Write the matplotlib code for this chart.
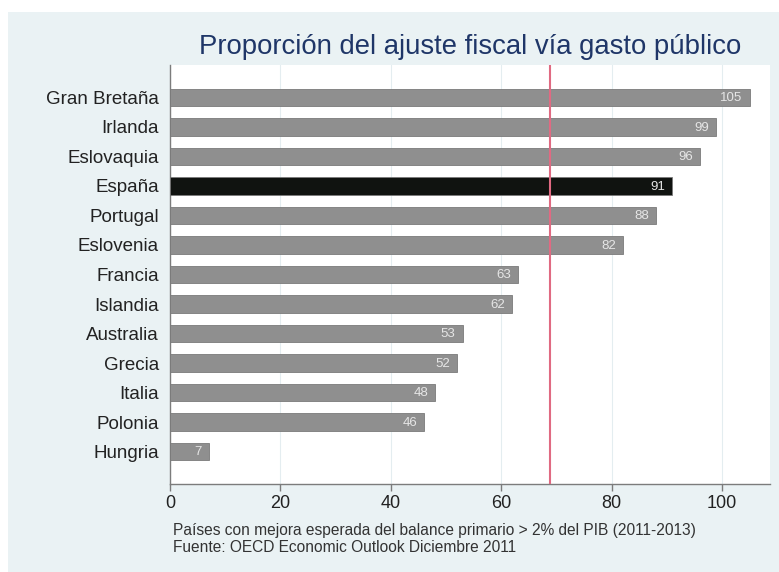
import matplotlib.pyplot as plt
from matplotlib.patches import Rectangle

plt.rcParams['font.family'] = ['Liberation Sans', 'DejaVu Sans']

countries = ['Gran Bretaña', 'Irlanda', 'Eslovaquia', 'España', 'Portugal',
             'Eslovenia', 'Francia', 'Islandia', 'Australia', 'Grecia',
             'Italia', 'Polonia', 'Hungria']
values = [105, 99, 96, 91, 88, 82, 63, 62, 53, 52, 48, 46, 7]
highlight = 'España'
average = 68.8
xticks = [0, 20, 40, 60, 80, 100]

W, H = 779, 572
fig = plt.figure(figsize=(W / 100, H / 100), dpi=100)
fig.patch.set_facecolor('white')

# light blue-grey panel behind everything
fig.patches.append(Rectangle((8 / W, 0), 1, (H - 12) / H,
                             transform=fig.transFigure,
                             facecolor='#EAF2F4', edgecolor='none', zorder=-1))

ax = fig.add_axes([170 / W, (H - 484) / H, 600 / W, (484 - 65) / H])
ax.set_zorder(1)
ax.set_facecolor('white')

n = len(countries)
ypos = list(range(n))[::-1]
colors = ['#101310' if c == highlight else '#8F8F8F' for c in countries]
ax.barh(ypos, values, height=0.6, color=colors,
        edgecolor='#7A7A7A', linewidth=0.6, zorder=3)

for y, v, c in zip(ypos, values, countries):
    ax.annotate(f'{v}', xy=(v, y), xytext=(-5, -0.5), textcoords='offset points',
                ha='right', va='center', fontsize=9.5, color='#E6E6E6', zorder=4)

ax.axvline(average, color='#E06A82', lw=1.5, zorder=4)

ax.set_xlim(0, 108.7)
ax.set_ylim(-1.1, n - 1 + 1.1)
ax.set_xticks(xticks)
ax.set_yticks(ypos)
ax.set_yticklabels(countries)
ax.grid(axis='x', color='#E4EDF0', lw=0.8, zorder=1)
ax.set_axisbelow(True)

for side in ('top', 'right'):
    ax.spines[side].set_visible(False)
for side in ('left', 'bottom'):
    ax.spines[side].set_color('#7C7C7C')
    ax.spines[side].set_linewidth(1.0)

ax.tick_params(axis='x', labelsize=13, colors='#7C7C7C', labelcolor='#222222',
               length=5, width=1.0, pad=3)
ax.tick_params(axis='y', labelsize=13.5, colors='#7C7C7C', labelcolor='#222222',
               length=0, pad=8)

fig.text(470 / W, (H - 47) / H, 'Proporción del ajuste fiscal vía gasto público',
         ha='center', va='center', fontsize=19.8, color='#1F3668')

fig.text(173 / W, (H - 530) / H,
         'Países con mejora esperada del balance primario > 2% del PIB (2011-2013)',
         ha='left', va='center', fontsize=11.2, color='#333333')
fig.text(173 / W, (H - 547) / H, 'Fuente: OECD Economic Outlook Diciembre 2011',
         ha='left', va='center', fontsize=11.2, color='#333333')

fig.savefig('out.png', dpi=100)
